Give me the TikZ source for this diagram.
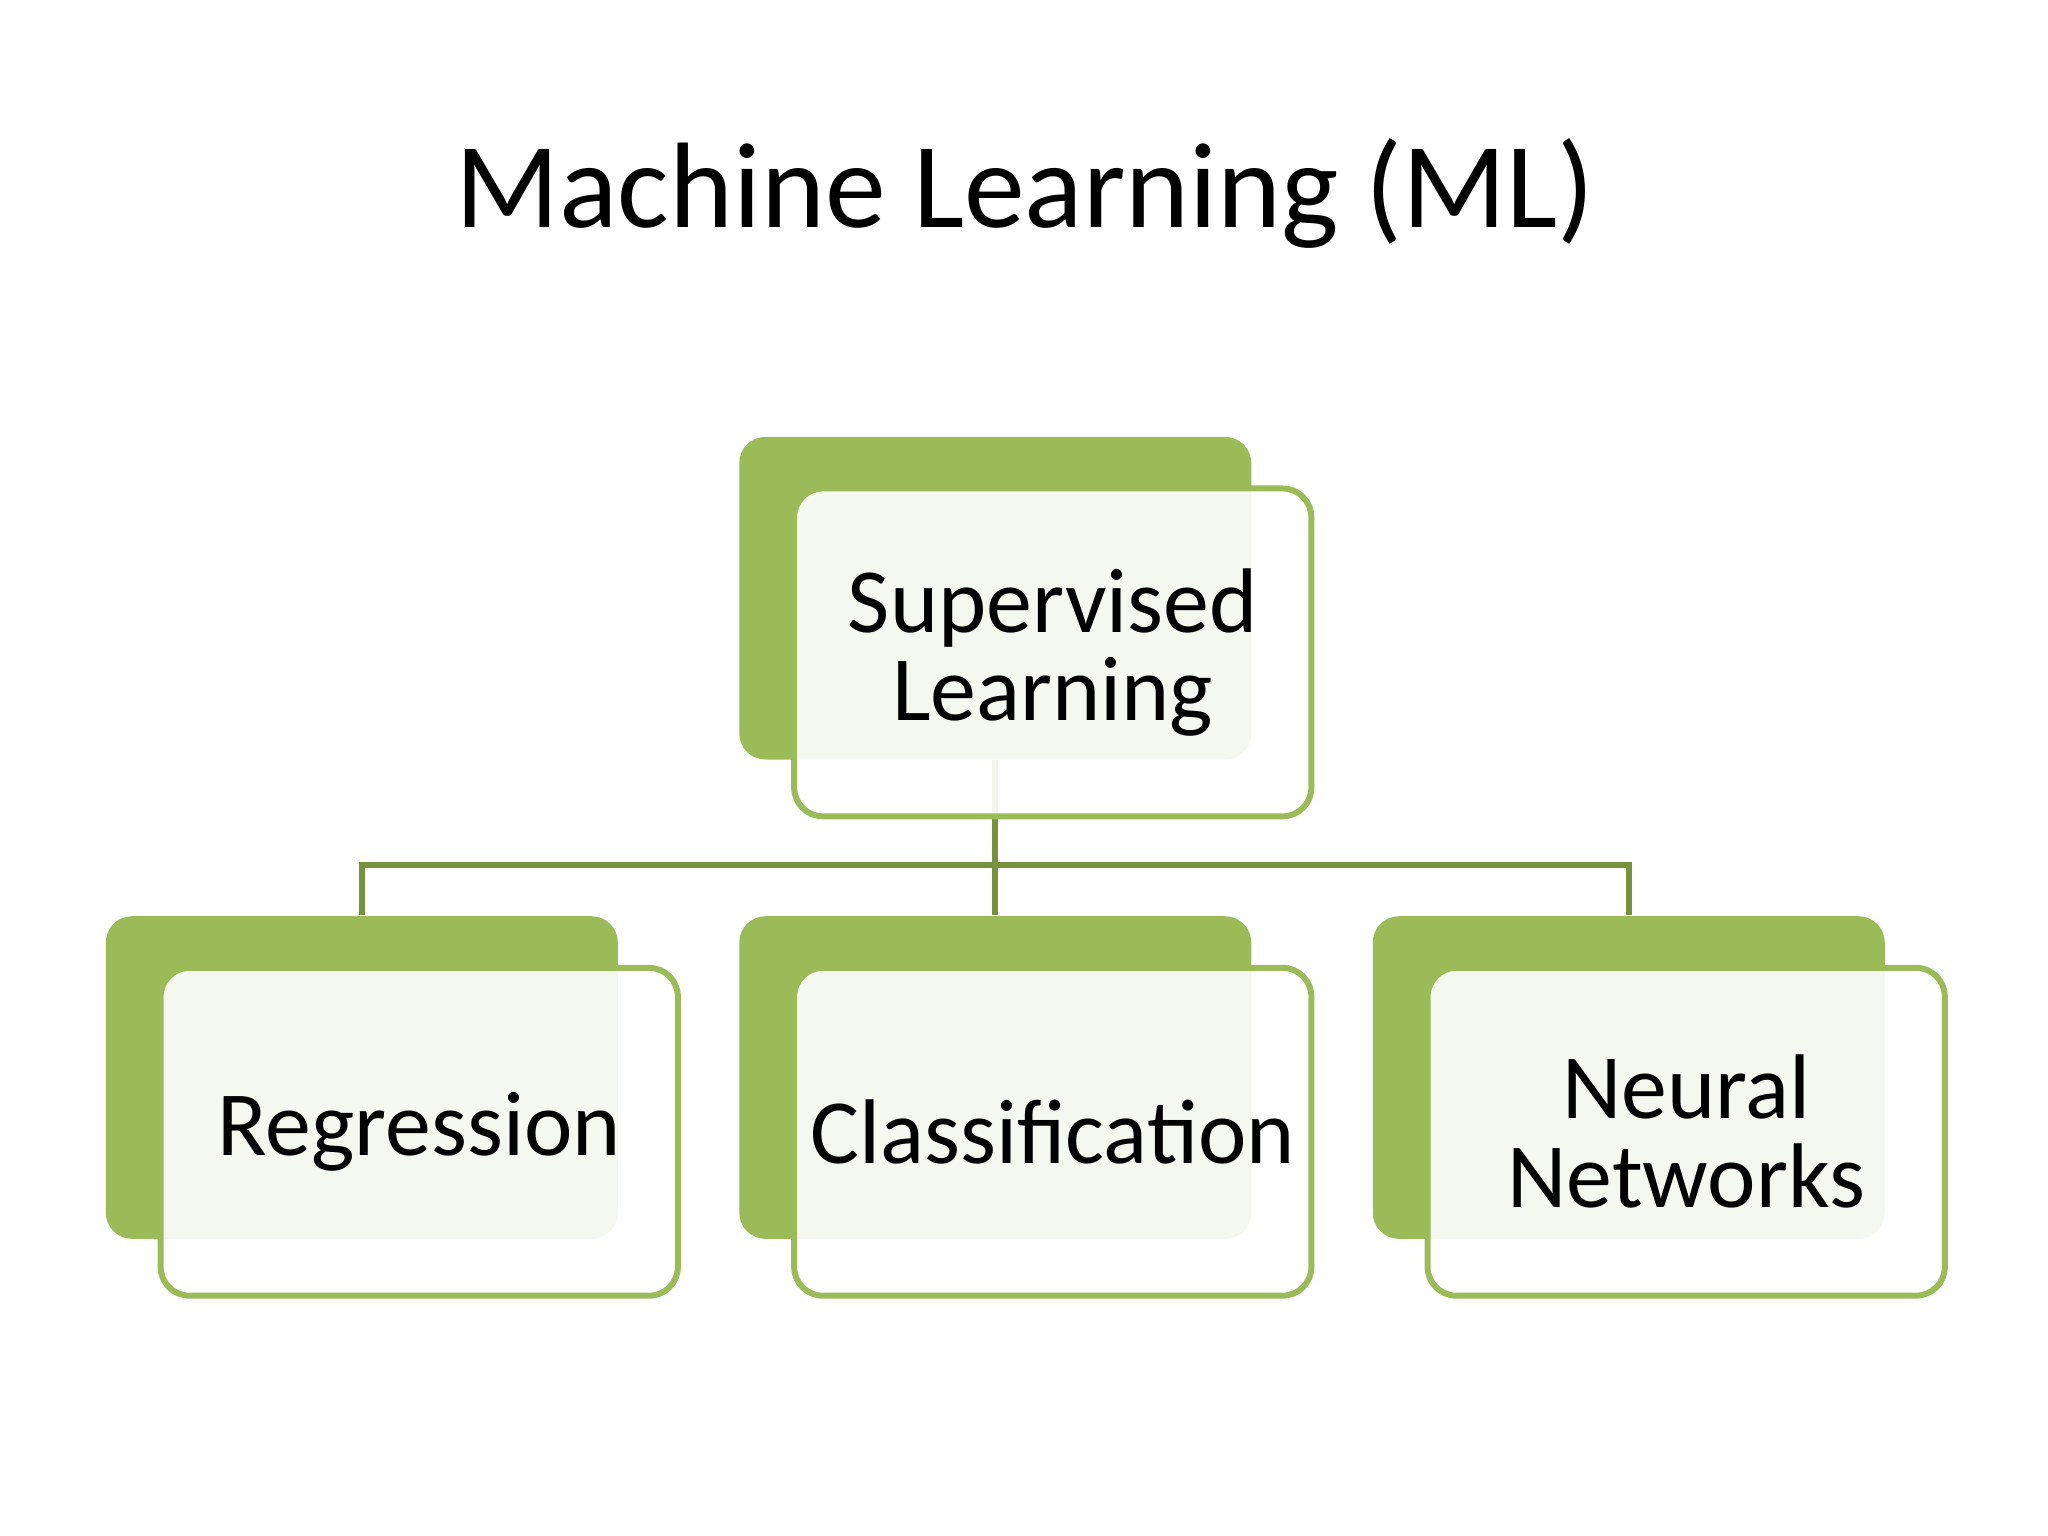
\documentclass[tikz,border=0pt]{standalone}
\usepackage{fontspec}
\setmainfont{Carlito}
\definecolor{mlgreen}{HTML}{9BBB59}
\definecolor{linkgreen}{HTML}{76923C}
\begin{document}
\begin{tikzpicture}[
  back/.style={fill=mlgreen,rounded corners=0.2cm,minimum width=3.92cm,minimum height=2.47cm,inner sep=0pt},
  front/.style={draw=mlgreen,line width=1.3pt,fill=white,fill opacity=0.9,text opacity=1,rounded corners=0.22cm,
    minimum width=3.96cm,minimum height=2.51cm,inner sep=0pt,align=center,font=\fontsize{20pt}{19.3pt}\selectfont},
  link/.style={draw=linkgreen,line width=1.3pt}]
\useasboundingbox (0,0) rectangle (15.68,-11.76);
\node[font=\fontsize{26.5pt}{30pt}\selectfont] (title) at (7.85,-1.48) {Machine Learning (ML)};
% back plates
\node[back] (sb) at (7.62,-4.58) {};
\node[back] (rb) at (2.77,-8.25) {};
\node[back] (cb) at (7.62,-8.25) {};
\node[back] (nb) at (12.47,-8.25) {};
% connectors
\coordinate (hub) at (7.62,-6.62);
\draw[link] (sb.south) -- (hub);
\draw[link] (hub) -| (rb.north);
\draw[link] (hub) -- (cb.north);
\draw[link] (hub) -| (nb.north);
% front boxes
\node[front] (s) at (8.06,-4.995) {Supervised\\Learning};
\node[front] (r) at (3.21,-8.665) {Regression};
\node[front] (c) at (8.06,-8.665) {Classification};
\node[front] (n) at (12.91,-8.665) {Neural\\Networks};
\end{tikzpicture}
\end{document}
